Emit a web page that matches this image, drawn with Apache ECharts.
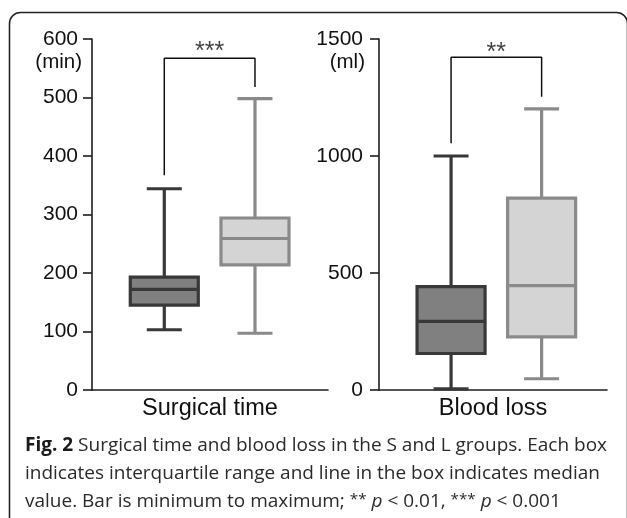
<!DOCTYPE html>
<html>
<head>
<meta charset="utf-8">
<script src="https://cdn.jsdelivr.net/npm/echarts@6/dist/echarts.min.js"></script>
<style>
html,body{margin:0;padding:0;background:#fff;}
#chart{width:627px;height:518px;}
</style>
</head>
<body>
<div id="chart"></div>
<script>
// ---- data ----
var groupPositions = [1, 2];            // S group, L group
var surgicalTime = [                    // [min, Q1, median, Q3, max]
  [103, 145, 172, 193, 344],
  [97, 214, 259, 294, 498]
];
var bloodLoss = [
  [5, 156, 293, 442, 1000],
  [48, 227, 446, 820, 1201]
];
var surgicalTicks = [0, 100, 200, 300, 400, 500, 600];
var bloodTicks = [0, 500, 1000, 1500];
var surgicalBracket = [[1, 367], [1, 567], [2, 567], [2, 518]];
var bloodBracket = [[1, 1054], [1, 1422], [2, 1422], [2, 1253]];
var surgicalStars = [[1.5, 577]];
var bloodStars = [[1.5, 1440]];
var axisTitles = ['Surgical time', 'Blood loss'];
var unitLabels = ['(min)', '(ml)'];
var starLabels = ['***', '**'];

var boxStyles = [
  {fill: '#808080', stroke: '#383838'},
  {fill: '#d4d4d4', stroke: '#8a8a8a'}
];

function toRows(stats) {
  return stats.map(function (s, i) {
    return [groupPositions[i], s[0], s[1], s[2], s[3], s[4], i];
  });
}

function renderBox(params, api) {
  var x = api.value(0);
  var st = boxStyles[api.value(6)];
  var pMin = api.coord([x, api.value(1)]);
  var pQ1 = api.coord([x, api.value(2)]);
  var pMed = api.coord([x, api.value(3)]);
  var pQ3 = api.coord([x, api.value(4)]);
  var pMax = api.coord([x, api.value(5)]);
  var cx = pMin[0];
  var hw = 34, cw = 17.5, lw = 3.2;
  var ls = {stroke: st.stroke, lineWidth: lw, fill: null};
  return {
    type: 'group',
    children: [
      {type: 'line', shape: {x1: cx, y1: pMax[1], x2: cx, y2: pQ3[1]}, style: ls},
      {type: 'line', shape: {x1: cx, y1: pQ1[1], x2: cx, y2: pMin[1]}, style: ls},
      {type: 'line', shape: {x1: cx - cw, y1: pMax[1], x2: cx + cw, y2: pMax[1]}, style: ls},
      {type: 'line', shape: {x1: cx - cw, y1: pMin[1], x2: cx + cw, y2: pMin[1]}, style: ls},
      {type: 'rect', shape: {x: cx - hw, y: pQ3[1], width: 2 * hw, height: pQ1[1] - pQ3[1]},
        style: {fill: st.fill, stroke: st.stroke, lineWidth: lw}},
      {type: 'line', shape: {x1: cx - hw, y1: pMed[1], x2: cx + hw, y2: pMed[1]}, style: ls}
    ]
  };
}

var axisColor = '#1e1e1e';
var labelFont = 'Liberation Sans, Arial, sans-serif';

function makeX(idx, min, max) {
  return {
    type: 'value', gridIndex: idx, min: min, max: max,
    axisLine: {show: true, onZero: false, lineStyle: {color: axisColor, width: 1.6}},
    axisTick: {show: false}, axisLabel: {show: false}, splitLine: {show: false},
    name: axisTitles[idx], nameLocation: 'middle', nameGap: 7,
    nameTextStyle: {fontSize: 23.5, fontFamily: labelFont, color: '#111', verticalAlign: 'top'}
  };
}
function makeY(idx, ticks, margin, namePad) {
  return {
    type: 'value', gridIndex: idx, min: ticks[0], max: ticks[ticks.length - 1],
    interval: ticks[1] - ticks[0],
    axisLine: {show: true, lineStyle: {color: axisColor, width: 1.6}},
    axisTick: {show: true, inside: false, length: 9, lineStyle: {color: axisColor, width: 1.6}},
    axisLabel: {fontSize: 21, fontFamily: labelFont, color: '#111', margin: margin,
      formatter: function (v) { return String(v); }},
    splitLine: {show: false},
    name: unitLabels[idx], nameLocation: 'end', nameGap: -23,
    nameTextStyle: {fontSize: 20.5, fontFamily: labelFont, color: '#111', align: 'right',
      verticalAlign: 'middle', padding: [0, namePad, 0, 0]}
  };
}

function bracketSeries(idx, data) {
  return {
    type: 'line', xAxisIndex: idx, yAxisIndex: idx, data: data, symbol: 'none',
    lineStyle: {color: '#111', width: 1.5}, silent: true, animation: false, z: 3
  };
}
function starSeries(idx, data) {
  return {
    type: 'scatter', xAxisIndex: idx, yAxisIndex: idx, data: data, symbolSize: 0,
    silent: true, animation: false,
    label: {show: true, position: 'inside', formatter: starLabels[idx],
      fontSize: 25, fontFamily: labelFont, color: '#111'}
  };
}

var chart = echarts.init(document.getElementById('chart'), null, {renderer: 'canvas'});
var captionFont = '"Open Sans", "Noto Sans", sans-serif';
var capSize = 19;
chart.setOption({
  animation: false,
  backgroundColor: '#fff',
  grid: [
    {left: 92, top: 39, width: 236, height: 351},
    {left: 379, top: 39, width: 228, height: 351}
  ],
  xAxis: [makeX(0, 0.203, 2.805), makeX(1, 0.204, 2.722)],
  yAxis: [makeY(0, surgicalTicks, 14, 10), makeY(1, bloodTicks, 16, 14)],
  series: [
    {type: 'custom', xAxisIndex: 0, yAxisIndex: 0, data: toRows(surgicalTime),
      encode: {x: 0, y: [1, 2, 3, 4, 5]}, renderItem: renderBox, clip: false, z: 2},
    {type: 'custom', xAxisIndex: 1, yAxisIndex: 1, data: toRows(bloodLoss),
      encode: {x: 0, y: [1, 2, 3, 4, 5]}, renderItem: renderBox, clip: false, z: 2},
    bracketSeries(0, surgicalBracket),
    bracketSeries(1, bloodBracket),
    starSeries(0, surgicalStars),
    starSeries(1, bloodStars)
  ],
  graphic: [
    {type: 'rect', shape: {x: 9.5, y: 12.5, width: 618, height: 540, r: 11},
      style: {fill: null, stroke: '#222', lineWidth: 1.6}, silent: true, z: 0},
    {type: 'text', left: 25, top: 436,
      style: {text: '{b|Fig. 2} Surgical time and blood loss in the S and L groups. Each box',
        rich: {b: {fontWeight: 'bold', fontSize: capSize, fontFamily: captionFont, fill: '#1a1a1a'}},
        fontSize: capSize, fontFamily: captionFont, fill: '#2a2a2a'}},
    {type: 'text', left: 25, top: 464,
      style: {text: 'indicates interquartile range and line in the box indicates median',
        fontSize: capSize, fontFamily: captionFont, fill: '#2a2a2a'}},
    {type: 'text', left: 25, top: 492,
      style: {text: 'value. Bar is minimum to maximum; {s|**} {i|p} < 0.01, {s|***} {i|p} < 0.001',
        rich: {
          i: {fontStyle: 'italic', fontSize: capSize, fontFamily: captionFont, fill: '#2a2a2a'},
          s: {fontSize: capSize * 0.8, fontFamily: captionFont, fill: '#2a2a2a', verticalAlign: 'top'}
        },
        fontSize: capSize, fontFamily: captionFont, fill: '#2a2a2a'}}
  ]
});
</script>
</body>
</html>
